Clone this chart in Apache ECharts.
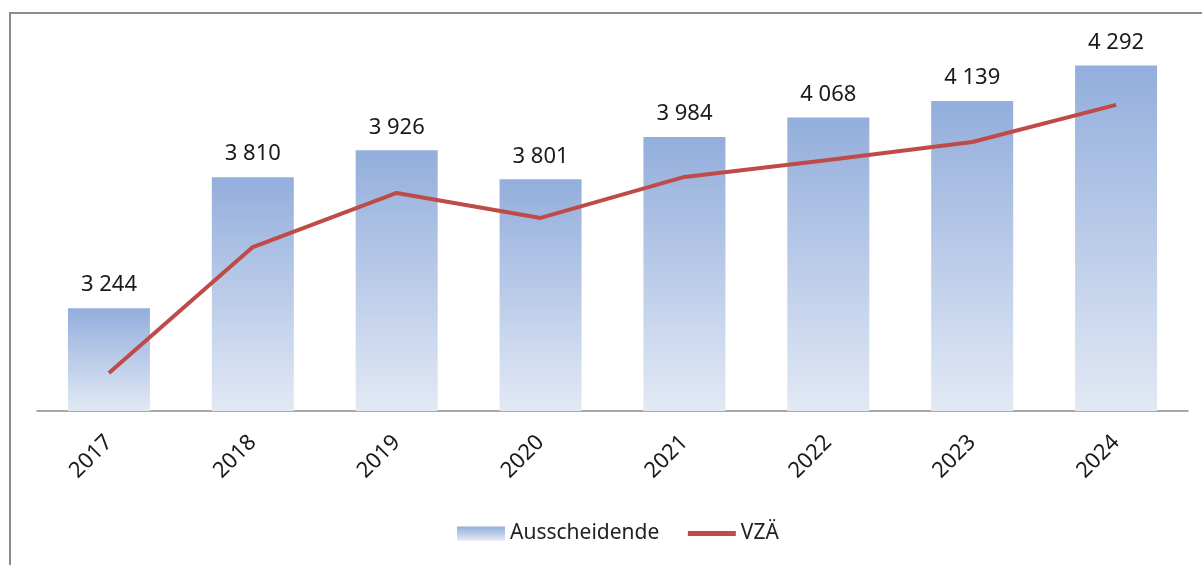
<!DOCTYPE html>
<html>
<head>
<meta charset="utf-8">
<script src="https://cdn.jsdelivr.net/npm/echarts@6/dist/echarts.min.js"></script>
<style>
  html, body { margin: 0; padding: 0; background: #fff; }
  #chart { width: 1202px; height: 565px; }
</style>
</head>
<body>
<div id="chart"></div>
<script>
// Jahre
var years = ['2017', '2018', '2019', '2020', '2021', '2022', '2023', '2024'];
// Ausscheidende (Köpfe)
var ausscheidende = [3244, 3810, 3926, 3801, 3984, 4068, 4139, 4292];
// VZÄ (Vollzeitäquivalente, aus Bild geschätzt)
var vzae = [2964, 3508, 3742, 3634, 3811, 3884, 3962, 4122];

// Tausender mit Leerzeichen
function fmt(v) {
    return String(v).replace(/\B(?=(\d{3})+(?!\d))/g, ' ');
}

var barColor = new echarts.graphic.LinearGradient(0, 0, 0, 1, [
    { offset: 0, color: '#93aedc' },
    { offset: 1, color: '#e2e9f5' }
]);

var option = {
    animation: false,
    textStyle: { fontFamily: 'Noto Sans' },
    graphic: [{
        type: 'rect',
        shape: { x: 10, y: 13, width: 1400, height: 700 },
        style: { fill: 'none', stroke: '#8c8c8c', lineWidth: 2 },
        silent: true
    }],
    grid: { left: 37, right: 14, top: 29, bottom: 154 },
    legend: {
        left: 452,
        top: 518,
        itemWidth: 48,
        itemHeight: 14,
        itemGap: 26,
        textStyle: { fontSize: 21, color: '#222' },
        data: [
            { name: 'Ausscheidende', icon: 'rect' },
            { name: 'VZÄ', itemStyle: { opacity: 0 }, lineStyle: { width: 5 } }
        ]
    },
    xAxis: {
        type: 'category',
        data: years,
        axisLine: { lineStyle: { color: '#8c8c8c', width: 1.5 } },
        axisTick: { show: false },
        axisLabel: { rotate: 45, fontSize: 22, color: '#1a1a1a', margin: 28 }
    },
    yAxis: {
        type: 'value',
        min: 2800,
        max: 4450,
        show: false,
        splitLine: { show: false }
    },
    series: [{
        name: 'Ausscheidende',
        type: 'bar',
        data: ausscheidende,
        barWidth: 82,
        itemStyle: { color: barColor },
        label: {
            show: true,
            position: 'top',
            distance: 12,
            fontSize: 22,
            color: '#1a1a1a',
            formatter: function (p) { return fmt(p.value); }
        }
    }, {
        name: 'VZÄ',
        type: 'line',
        data: vzae,
        showSymbol: false,
        symbol: 'none',
        itemStyle: { color: '#be4b48' },
        lineStyle: { color: '#be4b48', width: 4 }
    }]
};

var myChart = echarts.init(document.getElementById('chart'));
myChart.setOption(option);
</script>
</body>
</html>
